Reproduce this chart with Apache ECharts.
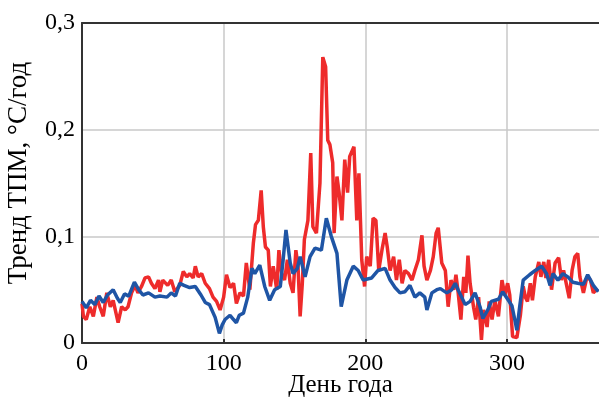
<!DOCTYPE html>
<html>
<head>
<meta charset="utf-8">
<script src="https://cdn.jsdelivr.net/npm/echarts@6/dist/echarts.min.js"></script>
<style>html,body{margin:0;padding:0;background:#fff}#c{width:599px;height:398px}</style>
</head>
<body>
<div id="c"></div>
<script>
const xTicks = [0, 100, 200, 300];
const yTicks = [0, 0.1, 0.2, 0.3];
const redSeries = [[0,0.037],[1,0.025],[3,0.022],[5.5,0.034],[8,0.025],[10.5,0.043],[12.5,0.034],[15,0.025],[17.5,0.047],[20,0.034],[22,0.040],[25.5,0.019],[28,0.034],[30.5,0.031],[32.5,0.034],[35,0.047],[37.5,0.054],[39.5,0.047],[42,0.053],[44.5,0.061],[47,0.062],[49,0.056],[51.5,0.051],[54,0.059],[55,0.048],[57,0.059],[60.5,0.054],[63,0.059],[65.5,0.048],[69,0.054],[71.5,0.067],[74,0.062],[76,0.065],[78.5,0.061],[80,0.072],[82,0.062],[84.5,0.065],[87,0.056],[90,0.051],[92.5,0.043],[95,0.039],[97.5,0.031],[100,0.043],[102,0.064],[104.5,0.052],[107,0.056],[109,0.037],[111.5,0.047],[114,0.044],[116,0.075],[118.5,0.050],[121,0.094],[122.5,0.111],[124.5,0.115],[126.5,0.143],[128,0.109],[129.5,0.090],[131.5,0.087],[133,0.053],[135,0.072],[137.5,0.050],[139,0.087],[141,0.065],[143,0.059],[145,0.078],[147,0.056],[149,0.047],[151,0.087],[152.5,0.072],[154,0.025],[155.5,0.055],[157,0.097],[159.5,0.115],[161.5,0.178],[163,0.109],[165.5,0.103],[168,0.150],[170,0.268],[172,0.259],[173.5,0.190],[175,0.186],[177,0.169],[178,0.103],[180,0.156],[181.5,0.141],[183.5,0.115],[185.5,0.172],[187.5,0.141],[189,0.175],[192,0.184],[194,0.115],[195.5,0.159],[197.5,0.078],[199.5,0.053],[201,0.081],[203.5,0.072],[205.5,0.117],[207.5,0.115],[209.5,0.068],[212,0.089],[214,0.103],[215.5,0.090],[217.5,0.068],[220,0.081],[222,0.059],[224,0.078],[226,0.056],[228,0.068],[230.5,0.065],[233,0.059],[235,0.068],[237.5,0.078],[240,0.101],[241.5,0.072],[243.5,0.059],[246,0.068],[248,0.081],[250,0.103],[251.5,0.108],[254,0.075],[256.5,0.068],[258.5,0.034],[260.5,0.059],[262.5,0.050],[264,0.064],[265.5,0.048],[267.5,0.022],[269.5,0.062],[271,0.047],[272.5,0.082],[274,0.056],[276.5,0.033],[278,0.022],[280,0.043],[282,0.003],[283.5,0.031],[286,0.015],[287.5,0.039],[289.5,0.022],[291.5,0.040],[294,0.025],[296.5,0.059],[298.5,0.045],[300.5,0.056],[302,0.045],[304,0.006],[307,0.005],[309.5,0.026],[311.5,0.053],[313,0.043],[314.5,0.039],[316.5,0.056],[318,0.040],[320,0.062],[322.5,0.076],[324,0.062],[326,0.076],[327.5,0.061],[329.5,0.078],[331.5,0.050],[334,0.075],[336.5,0.080],[338.5,0.059],[340,0.068],[342,0.055],[344,0.042],[346,0.068],[348,0.081],[350,0.084],[351.5,0.062],[354,0.047],[356.5,0.062],[359,0.059],[361,0.047],[364,0.051]];
const blueSeries = [[0,0.039],[3,0.033],[6,0.040],[9,0.036],[12,0.044],[15,0.038],[18,0.045],[22,0.050],[25,0.042],[27,0.038],[30,0.046],[33,0.044],[37,0.057],[40,0.050],[43,0.045],[47,0.047],[51.5,0.043],[55,0.044],[60,0.043],[63,0.047],[66,0.044],[69,0.056],[72,0.054],[76,0.052],[80,0.053],[84,0.045],[87,0.038],[90,0.036],[94,0.024],[97,0.009],[99,0.017],[101,0.022],[104.5,0.026],[107,0.022],[109,0.019],[111,0.026],[114,0.028],[117,0.043],[120,0.070],[122,0.065],[125.5,0.073],[129,0.053],[132.5,0.040],[136,0.050],[140,0.053],[142,0.078],[144,0.106],[147,0.075],[149,0.065],[152,0.070],[154,0.081],[157.5,0.062],[161,0.081],[164.5,0.089],[169,0.087],[172.5,0.117],[176,0.100],[180,0.084],[183,0.034],[187,0.059],[191.5,0.072],[195,0.068],[198.5,0.059],[204.5,0.061],[209,0.068],[214,0.070],[217.5,0.059],[221,0.052],[224.5,0.047],[228,0.048],[231.5,0.054],[235,0.043],[238.5,0.047],[242,0.043],[243.5,0.031],[247,0.047],[250.5,0.050],[253,0.051],[257.5,0.047],[261,0.050],[263.5,0.056],[265.5,0.050],[270.5,0.036],[274,0.039],[277.5,0.047],[281,0.034],[283,0.023],[286.5,0.031],[289,0.039],[294,0.041],[297,0.048],[301,0.040],[303.5,0.035],[306,0.019],[307,0.012],[309,0.034],[311.5,0.059],[316,0.064],[320,0.068],[321,0.067],[324.5,0.072],[328,0.065],[330.5,0.054],[332.5,0.065],[336,0.059],[339.5,0.065],[343,0.062],[346.5,0.057],[350,0.056],[354,0.055],[357,0.064],[361,0.054],[364.5,0.048]];

const FONT = '"Liberation Serif", "Times New Roman", serif';
const chart = echarts.init(document.getElementById('c'), null, {renderer: 'canvas'});
chart.setOption({
  animation: false,
  backgroundColor: '#fff',
  grid: {left: 82, top: 23, right: 0, bottom: 55, containLabel: false, outerBoundsMode: 'none'},
  xAxis: [{
    type: 'value', min: 0, max: 365,
    name: 'День года', nameLocation: 'middle', nameGap: 30, nameMoveOverlap: false,
    nameTextStyle: {fontFamily: FONT, fontSize: 25, color: '#000'},
    axisLine: {show: true, lineStyle: {color: '#333', width: 2}},
    axisTick: {show: true, inside: true, length: 4, customValues: xTicks, lineStyle: {color: '#333', width: 2}},
    axisLabel: {fontFamily: FONT, fontSize: 24, color: '#000', margin: 9,
      customValues: xTicks},
    splitLine: {show: true, lineStyle: {color: '#c8c8c8', width: 1.5}}
  }, {
    type: 'value', position: 'top', min: 0, max: 365,
    axisLine: {show: true, onZero: false, lineStyle: {color: '#333', width: 2}},
    axisTick: {show: false}, axisLabel: {show: false}, splitLine: {show: false}
  }],
  yAxis: {
    type: 'value', min: 0, max: 0.3, interval: 0.1,
    name: 'Тренд ТПМ, °С/год', nameLocation: 'middle', nameGap: 50, nameRotate: 90, nameMoveOverlap: false,
    nameTextStyle: {fontFamily: FONT, fontSize: 27, color: '#000', padding: [0, 0, 0, 20]},
    axisLine: {show: true, lineStyle: {color: '#333', width: 2}},
    axisTick: {show: false},
    axisLabel: {fontFamily: FONT, fontSize: 24, color: '#000', margin: 7,
      customValues: yTicks,
      formatter: v => String(Math.round(v * 10) / 10).replace('.', ',')},
    splitLine: {show: true, lineStyle: {color: '#c8c8c8', width: 1.5}}
  },
  series: [
    {type: 'line', data: redSeries, showSymbol: false, symbol: 'none',
      lineStyle: {color: '#ee2b2b', width: 3.5}, z: 2},
    {type: 'line', data: blueSeries, showSymbol: false, symbol: 'none',
      lineStyle: {color: '#1f55a5', width: 3.5}, z: 3}
  ]
});
</script>
</body>
</html>
